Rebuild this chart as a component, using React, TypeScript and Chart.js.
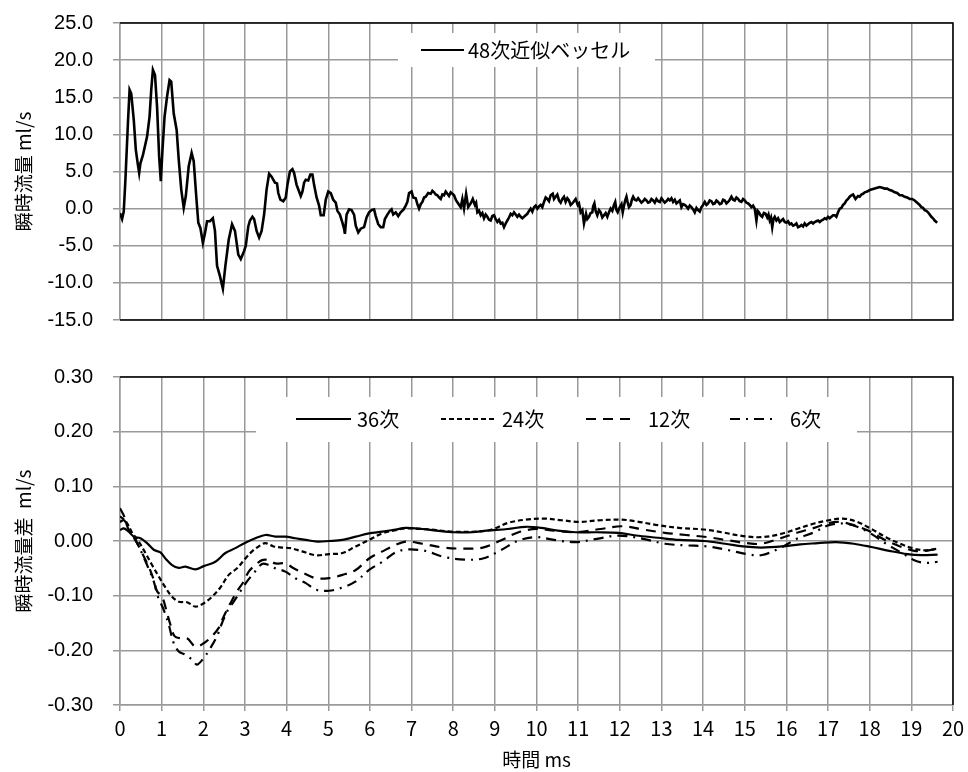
import React, { useEffect, useRef } from "react";
import { Chart, registerables } from "chart.js";

Chart.register(...registerables);

// ---------- Top panel: 48次近似ベッセル (ml/s) ----------
const TOP_TIME = [
  0.00, 0.05, 0.09, 0.13, 0.19, 0.23, 0.27, 0.33, 0.38, 0.43,
  0.46, 0.49, 0.55, 0.65, 0.71, 0.75, 0.79, 0.84, 0.89, 0.94,
  0.98, 1.02, 1.07, 1.13, 1.19, 1.23, 1.29, 1.36, 1.41, 1.47,
  1.53, 1.58, 1.65, 1.72, 1.77, 1.83, 1.88, 1.93, 1.99, 2.04,
  2.09, 2.16, 2.23, 2.28, 2.33, 2.40, 2.47, 2.53, 2.61, 2.69,
  2.76, 2.84, 2.90, 2.98, 3.02, 3.08, 3.12, 3.18, 3.22, 3.28,
  3.34, 3.40, 3.46, 3.52, 3.58, 3.64, 3.72, 3.77, 3.80, 3.85,
  3.92, 3.98, 4.02, 4.08, 4.14, 4.18, 4.24, 4.30, 4.34, 4.38,
  4.42, 4.46, 4.52, 4.57, 4.62, 4.66, 4.72, 4.78, 4.82, 4.89,
  4.94, 5.00, 5.06, 5.12, 5.18, 5.22, 5.28, 5.34, 5.38, 5.40,
  5.44, 5.50, 5.56, 5.62, 5.66, 5.72, 5.78, 5.86, 5.92, 5.98,
  6.04, 6.10, 6.14, 6.20, 6.26, 6.32, 6.36, 6.42, 6.48, 6.52,
  6.56, 6.62, 6.68, 6.74, 6.81, 6.86, 6.90, 6.94, 7.00, 7.04,
  7.10, 7.14, 7.18, 7.22, 7.26, 7.30, 7.34, 7.40, 7.46, 7.50,
  7.54, 7.58, 7.62, 7.66, 7.70, 7.74, 7.78, 7.82, 7.86, 7.90,
  7.94, 7.98, 8.02, 8.07, 8.12, 8.18, 8.22, 8.26, 8.31, 8.36,
  8.42, 8.47, 8.52, 8.55, 8.58, 8.62, 8.66, 8.70, 8.74, 8.78,
  8.82, 8.86, 8.90, 8.94, 8.98, 9.02, 9.06, 9.10, 9.14, 9.18,
  9.22, 9.26, 9.30, 9.34, 9.38, 9.42, 9.46, 9.50, 9.54, 9.58,
  9.62, 9.66, 9.70, 9.74, 9.78, 9.82, 9.86, 9.90, 9.94, 9.98,
  10.02, 10.06, 10.10, 10.14, 10.18, 10.22, 10.26, 10.30, 10.34, 10.39,
  10.42, 10.46, 10.50, 10.54, 10.58, 10.62, 10.66, 10.70, 10.74, 10.78,
  10.82, 10.86, 10.90, 10.94, 10.99, 11.02, 11.06, 11.10, 11.14, 11.19,
  11.22, 11.26, 11.30, 11.34, 11.36, 11.39, 11.42, 11.46, 11.50, 11.54,
  11.58, 11.62, 11.66, 11.70, 11.74, 11.78, 11.82, 11.86, 11.89, 11.92,
  11.95, 12.00, 12.04, 12.07, 12.10, 12.13, 12.16, 12.19, 12.22, 12.26,
  12.29, 12.32, 12.36, 12.40, 12.44, 12.48, 12.52, 12.56, 12.60, 12.64,
  12.68, 12.72, 12.76, 12.80, 12.84, 12.88, 12.92, 12.96, 13.00, 13.04,
  13.08, 13.12, 13.16, 13.20, 13.24, 13.28, 13.32, 13.36, 13.40, 13.44,
  13.48, 13.52, 13.56, 13.60, 13.64, 13.68, 13.72, 13.76, 13.80, 13.84,
  13.88, 13.92, 13.96, 14.00, 14.04, 14.08, 14.12, 14.16, 14.20, 14.24,
  14.28, 14.32, 14.36, 14.40, 14.44, 14.48, 14.52, 14.56, 14.60, 14.64,
  14.68, 14.72, 14.76, 14.80, 14.84, 14.88, 14.92, 14.96, 15.00, 15.04,
  15.08, 15.12, 15.16, 15.20, 15.24, 15.26, 15.28, 15.31, 15.34, 15.38,
  15.42, 15.46, 15.50, 15.54, 15.57, 15.60, 15.63, 15.66, 15.69, 15.72,
  15.76, 15.80, 15.84, 15.88, 15.92, 15.96, 16.00, 16.04, 16.08, 16.12,
  16.16, 16.20, 16.24, 16.28, 16.32, 16.36, 16.40, 16.44, 16.48, 16.52,
  16.56, 16.60, 16.64, 16.68, 16.72, 16.76, 16.80, 16.84, 16.88, 16.92,
  16.96, 17.00, 17.04, 17.08, 17.12, 17.16, 17.20, 17.24, 17.28, 17.32,
  17.36, 17.40, 17.44, 17.48, 17.52, 17.56, 17.60, 17.63, 17.66, 17.69,
  17.72, 17.76, 17.80, 17.84, 17.88, 17.94, 18.00, 18.06, 18.12, 18.18,
  18.24, 18.30, 18.36, 18.42, 18.48, 18.54, 18.60, 18.66, 18.72, 18.78,
  18.84, 18.90, 18.96, 19.02, 19.08, 19.12, 19.16, 19.20, 19.24, 19.28,
  19.32, 19.36, 19.40, 19.44, 19.48, 19.52, 19.56, 19.62,
];

const TOP_FLOW = [
  -0.6, -1.4, -0.4, 3.9, 11.5, 16.0, 15.5, 12.0, 7.9, 5.9,
  4.8, 6.1, 7.2, 9.7, 12.4, 16.0, 18.7, 18.0, 13.7, 7.0,
  3.7, 7.9, 12.4, 15.1, 17.3, 17.1, 12.8, 10.6, 6.6, 2.6,
  0.1, 1.7, 5.7, 7.5, 6.4, 1.7, -1.9, -2.6, -4.6, -3.3,
  -1.7, -1.7, -1.3, -3.0, -7.7, -9.1, -10.8, -7.7, -4.2, -2.1,
  -3.0, -6.2, -6.8, -5.7, -5.0, -2.4, -1.6, -1.1, -1.4, -3.0,
  -3.9, -3.0, -0.8, 2.6, 4.7, 4.3, 3.5, 3.4, 2.1, 1.2,
  1.0, 1.5, 3.2, 5.0, 5.3, 4.8, 3.2, 2.3, 1.7, 2.3,
  3.5, 3.9, 3.8, 4.6, 4.6, 3.2, 1.5, 0.4, -0.9, -0.9,
  1.2, 2.3, 2.1, 1.2, 0.8, -0.3, -0.8, -1.9, -2.7, -3.4,
  -0.8, -0.1, -0.2, -0.8, -2.3, -3.2, -2.7, -2.5, -1.2, -0.5,
  -0.2, -0.1, -1.0, -2.1, -2.5, -2.5, -1.4, -0.8, -0.3, -0.1,
  -0.8, -0.5, -1.0, -0.5, -0.1, 0.4, 0.9, 2.1, 2.3, 1.5,
  1.4, 0.6, 0.0, 0.6, 0.9, 1.5, 1.6, 2.1, 2.0, 2.4,
  2.2, 1.9, 1.8, 1.5, 1.3, 1.9, 1.8, 2.3, 2.0, 1.7,
  2.2, 2.0, 1.8, 1.1, 0.7, 0.2, 1.3, 0.0, 2.0, 0.2,
  0.7, 1.3, 0.5, 0.8, -0.5, -0.3, -0.9, -0.6, -1.3, -0.8,
  -1.1, -1.5, -1.6, -1.0, -0.9, -1.4, -1.8, -1.5, -2.0, -1.9,
  -2.5, -2.0, -1.6, -1.2, -0.7, -0.9, -0.5, -0.8, -1.1, -0.8,
  -1.1, -1.3, -1.1, -0.9, -0.7, -0.3, 0.0, -0.4, 0.2, 0.4,
  0.0, 0.3, 0.5, 0.2, 0.9, 1.5, 1.3, 1.0, 1.8, 2.0,
  1.3, 1.6, 1.9, 1.1, 0.8, 1.3, 1.6, 0.9, 1.4, 1.1,
  0.5, 0.7, 1.0, 1.3, 0.5, 0.7, -0.5, -0.2, -2.0, -0.7,
  -1.4, -1.1, -0.6, -0.5, 0.3, 0.7, -0.3, -0.9, -0.2, -0.5,
  -1.2, -0.9, -0.6, -1.1, -0.5, 0.0, -0.3, 0.5, 0.9, -0.2,
  -0.5, 0.2, 0.6, -0.5, 0.4, 1.1, 1.6, 0.8, 0.2, 0.5,
  1.2, 1.6, 1.2, 1.1, 1.4, 1.1, 0.8, 1.0, 1.3, 1.1,
  0.8, 0.9, 1.3, 1.1, 0.8, 1.3, 1.0, 0.9, 1.4, 1.1,
  0.8, 1.0, 1.3, 1.1, 1.4, 0.9, 1.2, 0.7, 0.9, 1.1,
  0.2, 0.6, 0.5, 0.3, 0.0, 0.4, 0.2, -0.1, -0.5, 0.1,
  -0.2, -0.4, 0.2, 0.5, 0.9, 0.5, 0.7, 1.1, 1.0, 0.6,
  0.7, 1.1, 0.9, 0.6, 0.7, 1.2, 1.1, 0.7, 0.9, 1.2,
  1.6, 1.2, 1.1, 1.5, 1.3, 1.0, 0.9, 1.3, 1.1, 0.8,
  0.7, 0.5, 0.2, 0.4, 0.0, -0.8, -1.6, -0.3, -0.5, -0.9,
  -1.1, -0.6, -0.7, -1.2, -0.8, -1.6, -1.2, -2.5, -1.4, -1.1,
  -1.6, -1.3, -1.8, -1.6, -1.4, -1.8, -1.9, -1.7, -2.1, -2.0,
  -2.3, -2.2, -2.0, -2.5, -2.4, -2.2, -2.4, -2.0, -2.3, -2.1,
  -1.9, -1.8, -2.0, -1.8, -1.7, -1.6, -1.8, -1.6, -1.5, -1.3,
  -1.4, -1.1, -1.3, -1.1, -0.9, -0.9, -1.1, -0.5, 0.0, 0.1,
  0.5, 0.7, 1.1, 1.3, 1.6, 1.8, 1.9, 1.6, 1.3, 1.5,
  1.7, 1.6, 1.9, 2.0, 2.2, 2.3, 2.5, 2.6, 2.7, 2.8,
  2.9, 2.8, 2.7, 2.7, 2.5, 2.4, 2.2, 2.1, 1.8, 1.8,
  1.6, 1.5, 1.3, 1.3, 1.1, 0.9, 0.7, 0.5, 0.2, 0.1,
  -0.2, -0.3, -0.5, -0.8, -1.1, -1.3, -1.6, -1.9,
];

// ---------- Bottom panel: 瞬時流量差 (ml/s) ----------
const D36_TIME = [
  0, 0.09, 0.21, 0.33, 0.49, 0.65, 0.81, 0.97, 1.09, 1.25,
  1.41, 1.57, 1.81, 2.01, 2.29, 2.53, 2.77, 3.01, 3.25, 3.49,
  3.73, 3.97, 4.21, 4.46, 4.74, 5.02, 5.34, 5.66, 5.98, 6.3,
  6.62, 6.86, 7.26, 7.6, 8.03, 8.46, 8.8, 9.31, 9.74, 10.12,
  10.51, 10.94, 11.45, 11.97, 12.39, 12.91, 13.42, 14.02, 14.53, 14.96,
  15.39, 15.9, 16.33, 16.76, 17.19, 17.62, 18.04, 18.47, 18.9, 19.24,
  19.63,
];
const D36_DIFF = [
  0.020, 0.023, 0.017, 0.008, 0.005, -0.004, -0.016, -0.021, -0.032, -0.044,
  -0.049, -0.047, -0.052, -0.046, -0.038, -0.022, -0.013, -0.003, 0.005, 0.011,
  0.008, 0.008, 0.005, 0.002, -0.001, 0.000, 0.002, 0.008, 0.014, 0.017,
  0.021, 0.024, 0.022, 0.019, 0.016, 0.016, 0.019, 0.022, 0.026, 0.024,
  0.019, 0.016, 0.016, 0.015, 0.010, 0.006, 0.002, 0.000, -0.005, -0.010,
  -0.012, -0.010, -0.006, -0.004, -0.002, -0.005, -0.011, -0.018, -0.024, -0.026,
  -0.025,
];

const D24_TIME = [
  0, 0.15, 0.3, 0.45, 0.61, 0.77, 0.93, 1.09, 1.25, 1.41,
  1.61, 1.81, 2.01, 2.21, 2.41, 2.61, 2.81, 3.01, 3.17, 3.33,
  3.49, 3.69, 3.89, 4.09, 4.37, 4.7, 5.02, 5.34, 5.66, 5.98,
  6.3, 6.62, 6.86, 7.43, 8.03, 8.71, 8.97, 9.31, 9.74, 10.17,
  10.6, 11.02, 11.54, 12.05, 12.39, 12.91, 13.42, 14.02, 14.45, 14.96,
  15.39, 15.82, 16.25, 16.67, 17.02, 17.36, 17.7, 18.04, 18.39, 18.73,
  19.07, 19.33, 19.63,
];
const D24_DIFF = [
  0.045, 0.035, 0.014, -0.001, -0.022, -0.044, -0.065, -0.085, -0.102, -0.111,
  -0.112, -0.120, -0.114, -0.102, -0.085, -0.062, -0.050, -0.032, -0.019, -0.010,
  -0.004, -0.010, -0.012, -0.013, -0.019, -0.026, -0.024, -0.022, -0.010, 0.002,
  0.014, 0.020, 0.023, 0.021, 0.017, 0.018, 0.022, 0.033, 0.039, 0.041,
  0.038, 0.035, 0.038, 0.039, 0.036, 0.029, 0.024, 0.021, 0.016, 0.009,
  0.007, 0.012, 0.022, 0.032, 0.038, 0.041, 0.035, 0.022, 0.007, -0.005,
  -0.014, -0.017, -0.014,
];

const D12_TIME = [
  0, 0.1, 0.21, 0.37, 0.53, 0.69, 0.81, 0.89, 1.01, 1.11,
  1.21, 1.31, 1.45, 1.61, 1.81, 2.01, 2.21, 2.37, 2.49, 2.65,
  2.81, 2.97, 3.09, 3.25, 3.41, 3.57, 3.73, 3.97, 4.17, 4.41,
  4.7, 5.02, 5.34, 5.66, 5.98, 6.3, 6.62, 6.86, 7.26, 7.77,
  8.28, 8.71, 9.14, 9.57, 10.0, 10.42, 10.94, 11.54, 12.05, 12.56,
  13.08, 13.59, 14.11, 14.62, 15.05, 15.39, 15.82, 16.25, 16.67, 17.02,
  17.27, 17.62, 17.96, 18.39, 18.73, 19.07, 19.33, 19.63,
];
const D12_DIFF = [
  0.060, 0.045, 0.020, 0.002, -0.022, -0.047, -0.071, -0.092, -0.102, -0.126,
  -0.153, -0.174, -0.178, -0.178, -0.193, -0.187, -0.174, -0.159, -0.138, -0.114,
  -0.092, -0.074, -0.056, -0.044, -0.035, -0.035, -0.041, -0.041, -0.050, -0.059,
  -0.068, -0.068, -0.062, -0.053, -0.032, -0.019, -0.007, -0.001, -0.005, -0.012,
  -0.014, -0.012, 0.001, 0.016, 0.022, 0.019, 0.016, 0.022, 0.027, 0.021,
  0.015, 0.011, 0.007, 0.001, -0.004, -0.005, 0.004, 0.015, 0.024, 0.033,
  0.035, 0.029, 0.019, 0.001, -0.010, -0.018, -0.018, -0.014,
];

const D6_TIME = [
  0, 0.1, 0.25, 0.45, 0.65, 0.81, 0.91, 1.05, 1.17, 1.29,
  1.41, 1.57, 1.73, 1.85, 2.01, 2.17, 2.33, 2.45, 2.57, 2.73,
  2.89, 3.05, 3.21, 3.41, 3.57, 3.73, 3.97, 4.21, 4.46, 4.7,
  5.02, 5.34, 5.66, 5.98, 6.3, 6.7, 7.26, 7.77, 8.28, 8.71,
  9.14, 9.57, 10.0, 10.42, 10.94, 11.45, 11.97, 12.56, 13.08, 13.59,
  14.11, 14.62, 15.05, 15.39, 15.82, 16.25, 16.67, 17.02, 17.36, 17.7,
  18.04, 18.39, 18.73, 19.07, 19.33, 19.63,
];
const D6_DIFF = [
  0.035, 0.038, 0.017, -0.010, -0.044, -0.074, -0.102, -0.126, -0.153, -0.187,
  -0.202, -0.208, -0.217, -0.226, -0.214, -0.196, -0.174, -0.150, -0.129, -0.111,
  -0.092, -0.074, -0.059, -0.042, -0.044, -0.050, -0.056, -0.068, -0.077, -0.089,
  -0.091, -0.085, -0.074, -0.053, -0.038, -0.018, -0.017, -0.029, -0.034, -0.032,
  -0.017, 0.001, 0.007, 0.002, -0.002, 0.004, 0.010, 0.004, -0.005, -0.008,
  -0.010, -0.017, -0.024, -0.026, -0.014, 0.004, 0.016, 0.029, 0.032, 0.026,
  0.013, -0.005, -0.020, -0.035, -0.040, -0.038,
];

const SERIES_LABELS = ["48次近似ベッセル", "36次", "24次", "12次", "6次"];
const TOP_Y_TITLE = "瞬時流量 ml/s";
const BOTTOM_Y_TITLE = "瞬時流量差  ml/s";
const X_TITLE = "時間 ms";

// ---------- styles ----------
const GRID = "#999999";
const JP = "'Noto Sans CJK JP', 'Noto Sans', sans-serif";
const AR = "'Liberation Sans', Arial, sans-serif";
const DASH_24 = [5, 3];
const DASH_12 = [10, 7];
const DASH_6 = [10, 6, 2, 6];

function pts(ts: number[], vs: number[]) {
  const n = Math.min(ts.length, vs.length);
  const out: { x: number; y: number }[] = [];
  for (let i = 0; i < n; i++) out.push({ x: ts[i], y: vs[i] });
  return out;
}

function framePlugin(withBottom: boolean) {
  return {
    id: "frame",
    beforeDatasetsDraw(chart: any) {
      const { ctx, chartArea: a } = chart;
      ctx.save();
      ctx.strokeStyle = "#000";
      ctx.lineWidth = 1.5;
      ctx.beginPath();
      ctx.moveTo(a.left, a.top);
      ctx.lineTo(a.right, a.top);
      ctx.lineTo(a.right, a.bottom);
      if (withBottom) ctx.lineTo(a.left, a.bottom);
      ctx.stroke();
      ctx.restore();
    },
  };
}

type LegendItem = { index: number; x0: number; x1: number; tx: number };
function boxLegendPlugin(box: number[], textY: number, items: LegendItem[]) {
  return {
    id: "boxLegend",
    afterDraw(chart: any) {
      const { ctx } = chart;
      ctx.save();
      ctx.fillStyle = "#fff";
      ctx.fillRect(box[0], box[1], box[2], box[3]);
      items.forEach((it) => {
        const ds = chart.data.datasets[it.index];
        ctx.strokeStyle = "#000";
        ctx.lineWidth = 2;
        ctx.setLineDash(ds.borderDash || []);
        ctx.beginPath();
        ctx.moveTo(it.x0, textY);
        ctx.lineTo(it.x1, textY);
        ctx.stroke();
        ctx.setLineDash([]);
        ctx.fillStyle = "#000";
        ctx.font = `20px ${JP}`;
        ctx.textBaseline = "middle";
        ctx.textAlign = "left";
        ctx.fillText(ds.label, it.tx, textY);
      });
      ctx.restore();
    },
  };
}

function yAxis(min: number, max: number, step: number, digits: number, title: string) {
  return {
    type: "linear" as const,
    min,
    max,
    afterFit: (s: any) => {
      s.width = 120;
      s.paddingTop = 0;
      s.paddingBottom = 0;
    },
    ticks: {
      stepSize: step,
      color: "#000",
      padding: 20,
      font: { family: AR, size: 20 },
      callback: (v: any) => {
        const n = Math.abs(Number(v)) < 1e-9 ? 0 : Number(v);
        return n.toFixed(digits);
      },
    },
    grid: { color: GRID, lineWidth: 1.5, tickLength: 7, tickColor: GRID },
    border: { color: GRID, width: 1.5 },
    title: {
      display: true,
      text: title,
      color: "#000",
      font: { family: JP, size: 19 },
      padding: { top: 12, bottom: 0 },
    },
  };
}

export default function App() {
  const topRef = useRef<HTMLCanvasElement | null>(null);
  const botRef = useRef<HTMLCanvasElement | null>(null);

  useEffect(() => {
    if (!topRef.current || !botRef.current) return;

    const top = new Chart(topRef.current, {
      type: "line",
      data: {
        datasets: [
          {
            label: SERIES_LABELS[0],
            data: pts(TOP_TIME, TOP_FLOW),
            borderColor: "#000",
            borderWidth: 2.6,
            pointRadius: 0,
            tension: 0,
            fill: false,
          },
        ],
      },
      options: {
        animation: false,
        responsive: false,
        devicePixelRatio: 1,
        layout: { padding: { top: 23, right: 15, left: 0, bottom: 0 } },
        plugins: { legend: { display: false }, tooltip: { enabled: false } },
        scales: {
          x: {
            type: "linear",
            min: 0,
            max: 20,
            afterFit: (s: any) => {
              s.height = 15;
              s.paddingLeft = 0;
              s.paddingRight = 0;
            },
            ticks: { stepSize: 1, display: false },
            grid: { color: GRID, lineWidth: 1.5, drawTicks: false },
            border: { display: false },
          },
          y: yAxis(-15, 25, 5, 1, TOP_Y_TITLE),
        },
      },
      plugins: [
        framePlugin(true),
        boxLegendPlugin([398, 33, 257, 34], 50, [{ index: 0, x0: 421, x1: 464, tx: 468 }]),
      ],
    } as any);

    const mk = (label: string, ts: number[], vs: number[], dash: number[]) => ({
      label,
      data: pts(ts, vs),
      borderColor: "#000",
      borderWidth: 2.2,
      borderDash: dash,
      pointRadius: 0,
      tension: 0.35,
      fill: false,
    });

    const bottom = new Chart(botRef.current, {
      type: "line",
      data: {
        datasets: [
          mk(SERIES_LABELS[1], D36_TIME, D36_DIFF, []),
          mk(SERIES_LABELS[2], D24_TIME, D24_DIFF, DASH_24),
          mk(SERIES_LABELS[3], D12_TIME, D12_DIFF, DASH_12),
          mk(SERIES_LABELS[4], D6_TIME, D6_DIFF, DASH_6),
        ],
      },
      options: {
        animation: false,
        responsive: false,
        devicePixelRatio: 1,
        layout: { padding: { top: 42, right: 15, left: 0, bottom: 0 } },
        plugins: { legend: { display: false }, tooltip: { enabled: false } },
        scales: {
          x: {
            type: "linear",
            min: 0,
            max: 20,
            afterFit: (s: any) => {
              s.height = 67;
              s.paddingLeft = 0;
              s.paddingRight = 0;
            },
            ticks: {
              stepSize: 1,
              color: "#000",
              padding: 5,
              maxRotation: 0,
              autoSkip: false,
              font: { family: JP, size: 20 },
            },
            grid: { color: GRID, lineWidth: 1.5, tickLength: 6, tickColor: GRID },
            border: { color: GRID, width: 1.5 },
            title: {
              display: true,
              text: X_TITLE,
              color: "#000",
              font: { family: JP, size: 19 },
              padding: { top: 0, bottom: 1 },
            },
          },
          y: yAxis(-0.3, 0.3, 0.1, 2, BOTTOM_Y_TITLE),
        },
      },
      plugins: [
        framePlugin(false),
        boxLegendPlugin([256, 62, 601, 45], 84, [
          { index: 0, x0: 296, x1: 351, tx: 357 },
          { index: 1, x0: 441, x1: 496, tx: 502 },
          { index: 2, x0: 586, x1: 630, tx: 648 },
          { index: 3, x0: 730, x1: 778, tx: 790 },
        ]),
      ],
    } as any);

    return () => {
      top.destroy();
      bottom.destroy();
    };
  }, []);

  return (
    <div style={{ position: "absolute", left: 0, top: 0, width: 968, height: 772, background: "#fff" }}>
      <canvas
        ref={topRef}
        width={968}
        height={335}
        style={{ position: "absolute", left: 0, top: 0, width: 968, height: 335 }}
      />
      <canvas
        ref={botRef}
        width={968}
        height={437}
        style={{ position: "absolute", left: 0, top: 335, width: 968, height: 437 }}
      />
    </div>
  );
}
